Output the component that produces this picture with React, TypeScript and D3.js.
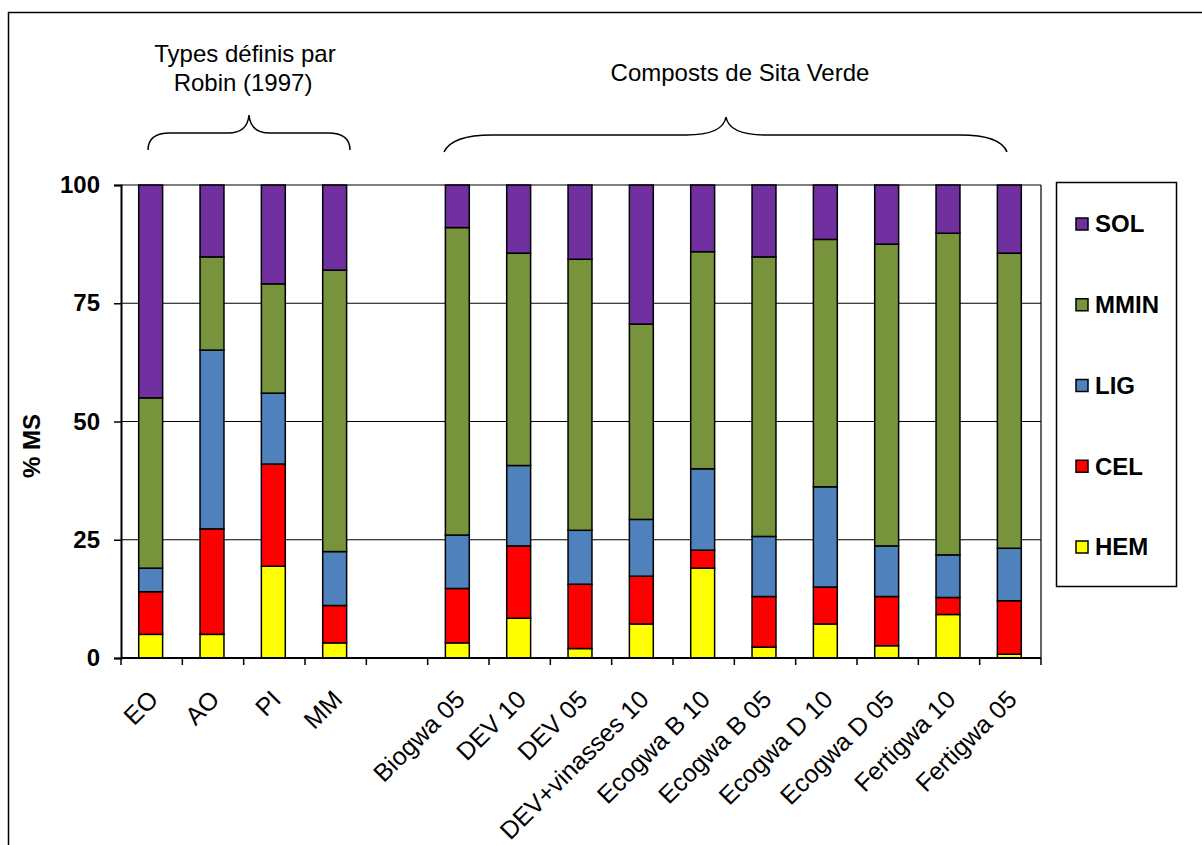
import React, { useEffect, useRef } from "react";
import * as d3 from "d3";

// categories on the x axis ("" is the empty slot between the two groups)
const categories = [
  "EO", "AO", "PI", "MM", "",
  "Biogwa 05", "DEV 10", "DEV 05", "DEV+vinasses 10", "Ecogwa B 10",
  "Ecogwa B 05", "Ecogwa D 10", "Ecogwa D 05", "Fertigwa 10", "Fertigwa 05",
];

// % MS
const HEM = [5, 5, 19.4, 3.2, 0, 3.2, 8.4, 2, 7.2, 19, 2.3, 7.2, 2.6, 9.2, 0.8];
const CEL = [9, 22.3, 21.6, 7.9, 0, 11.5, 15.3, 13.6, 10.1, 3.8, 10.7, 7.8, 10.4, 3.6, 11.3];
const LIG = [5, 37.8, 15, 11.4, 0, 11.3, 17, 11.4, 12, 17.2, 12.7, 21.2, 10.7, 9, 11.1];
const MMIN = [36, 19.7, 23.1, 59.5, 0, 65, 44.9, 57.3, 41.3, 45.9, 59.1, 52.3, 63.8, 68, 62.4];
const SOL = [45, 15.2, 20.9, 18, 0, 9, 14.4, 15.7, 29.4, 14.1, 15.2, 11.5, 12.5, 10.2, 14.4];

const seriesKeys = ["HEM", "CEL", "LIG", "MMIN", "SOL"];
const seriesColors = ["#FFFF00", "#FF0000", "#4F81BD", "#77933C", "#7030A0"];
const yTicks = [0, 25, 50, 75, 100];

const FONT = "'Liberation Sans', Arial, sans-serif";

const Chart: React.FC = () => {
  const svgRef = useRef<SVGSVGElement | null>(null);

  useEffect(() => {
    if (!svgRef.current) return;
    const svg = d3.select(svgRef.current);
    svg.selectAll("*").remove();

    const width = 1202;
    const height = 845;
    const margin = { top: 185, right: 161, bottom: 187, left: 121 };

    svg.attr("width", width).attr("height", height).style("font-family", FONT);

    // outer frame (runs off the page on the right and bottom)
    svg
      .append("rect")
      .attr("x", 8.5)
      .attr("y", 12.5)
      .attr("width", 1300)
      .attr("height", 1000)
      .attr("fill", "white")
      .attr("stroke", "black")
      .attr("stroke-width", 1.5);

    const rows = categories.map((c, i) => ({
      cat: c,
      HEM: HEM[i],
      CEL: CEL[i],
      LIG: LIG[i],
      MMIN: MMIN[i],
      SOL: SOL[i],
    }));

    const x = d3
      .scaleBand()
      .domain(categories.map((c, i) => String(i)))
      .range([margin.left, width - margin.right]);

    const y = d3
      .scaleLinear()
      .domain([0, 100])
      .range([height - margin.bottom, margin.top]);

    // gridlines
    svg
      .append("g")
      .selectAll("line")
      .data(yTicks.filter((t) => t > 0))
      .join("line")
      .attr("x1", margin.left)
      .attr("x2", width - margin.right)
      .attr("y1", (d) => y(d))
      .attr("y2", (d) => y(d))
      .attr("stroke", "black")
      .attr("stroke-width", 1.2);

    // right border of plot area
    svg
      .append("line")
      .attr("x1", width - margin.right)
      .attr("x2", width - margin.right)
      .attr("y1", y(100))
      .attr("y2", y(0))
      .attr("stroke", "black")
      .attr("stroke-width", 1.2);

    const stack = d3.stack<any>().keys(seriesKeys);
    const stacked = stack(rows);
    const barW = x.bandwidth() * 0.39;

    svg
      .append("g")
      .selectAll("g")
      .data(stacked)
      .join("g")
      .attr("fill", (_d, i) => seriesColors[i])
      .selectAll("rect")
      .data((d) => d.map((p, i) => ({ p, i })).filter((e) => e.p[1] - e.p[0] > 0))
      .join("rect")
      .attr("x", (e) => x(String(e.i))! + x.bandwidth() / 2 - barW / 2 - 1)
      .attr("y", (e) => y(e.p[1]))
      .attr("width", barW)
      .attr("height", (e) => y(e.p[0]) - y(e.p[1]))
      .attr("stroke", "black")
      .attr("stroke-width", 1.5);

    // y axis
    const yAxis = svg
      .append("g")
      .attr("transform", `translate(${margin.left},0)`)
      .call(d3.axisLeft(y).tickValues(yTicks).tickSize(7).tickPadding(14));
    yAxis.select(".domain").attr("stroke-width", 2);
    yAxis.selectAll(".tick line").attr("stroke-width", 1.5);
    yAxis
      .selectAll(".tick text")
      .attr("font-family", FONT)
      .attr("font-size", 24)
      .attr("font-weight", "bold")
      .attr("fill", "black");

    // x axis: tick marks between categories
    const bounds = categories.map((_c, i) => x(String(i))!).concat([width - margin.right]);
    svg
      .append("line")
      .attr("x1", margin.left)
      .attr("x2", width - margin.right)
      .attr("y1", y(0))
      .attr("y2", y(0))
      .attr("stroke", "black")
      .attr("stroke-width", 2);
    svg
      .append("g")
      .selectAll("line")
      .data(bounds)
      .join("line")
      .attr("x1", (d) => d)
      .attr("x2", (d) => d)
      .attr("y1", y(0))
      .attr("y2", y(0) + 7)
      .attr("stroke", "black")
      .attr("stroke-width", 1.5);

    svg
      .append("g")
      .selectAll("text")
      .data(categories.map((c, i) => ({ c, i })).filter((e) => e.c !== ""))
      .join("text")
      .attr(
        "transform",
        (e) => `translate(${x(String(e.i))! + x.bandwidth() / 2 + 8},701) rotate(-45)`
      )
      .attr("text-anchor", "end")
      .attr("font-size", 25)
      .text((e) => e.c);

    // y axis title
    svg
      .append("text")
      .attr("transform", `translate(40,446) rotate(-90)`)
      .attr("text-anchor", "middle")
      .attr("font-size", 24)
      .attr("font-weight", "bold")
      .text("% MS");

    // legend
    const legend = svg.append("g");
    legend
      .append("rect")
      .attr("x", 1056.5)
      .attr("y", 182.5)
      .attr("width", 120)
      .attr("height", 404)
      .attr("fill", "white")
      .attr("stroke", "black")
      .attr("stroke-width", 1.5);
    const legendItems = seriesKeys.map((k, i) => ({ k, c: seriesColors[i] })).reverse();
    const ly = d3.scalePoint().domain(legendItems.map((d) => d.k)).range([224, 547]);
    const li = legend
      .selectAll("g")
      .data(legendItems)
      .join("g")
      .attr("transform", (d) => `translate(1076,${ly(d.k)})`);
    li.append("rect")
      .attr("x", 0)
      .attr("y", -6)
      .attr("width", 12)
      .attr("height", 12)
      .attr("fill", (d) => d.c)
      .attr("stroke", "black")
      .attr("stroke-width", 1.5);
    li.append("text")
      .attr("x", 19)
      .attr("y", 0)
      .attr("dy", "0.35em")
      .attr("font-size", 24)
      .attr("font-weight", "bold")
      .text((d) => d.k);

    // group annotations
    const notes = svg.append("g").attr("font-size", 24).attr("text-anchor", "middle");
    notes.append("text").attr("x", 245).attr("y", 62).text("Types définis par");
    notes.append("text").attr("x", 243).attr("y", 91).text("Robin (1997)");
    notes.append("text").attr("x", 740).attr("y", 81).text("Composts de Sita Verde");

    svg
      .append("path")
      .attr(
        "d",
        "M148,150 C148,139 155,133 170,133 L228,133 C241,133 248,127 249,115 C250,127 257,133 270,133 L328,133 C343,133 350,139 350,150"
      )
      .attr("fill", "none")
      .attr("stroke", "black")
      .attr("stroke-width", 1.5);
    svg
      .append("path")
      .attr(
        "d",
        "M444,152 C450,139 468,135 492,135 L686,135 C712,135 724,129 726,117 C728,129 740,135 766,135 L960,135 C984,135 1002,139 1007,152"
      )
      .attr("fill", "none")
      .attr("stroke", "black")
      .attr("stroke-width", 1.5);
  }, []);

  return <svg ref={svgRef} style={{ position: "absolute", left: 0, top: 0 }}></svg>;
};

export default function App() {
  return <Chart />;
}
